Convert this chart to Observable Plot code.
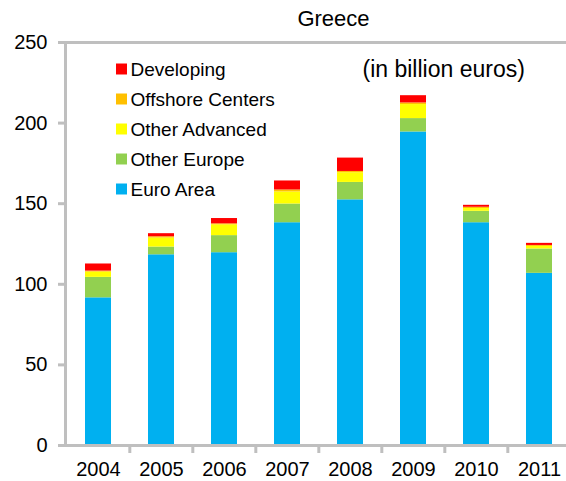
<!DOCTYPE html>
<html><head><meta charset="utf-8">
<script src="https://cdn.jsdelivr.net/npm/d3@7"></script>
<script src="https://cdn.jsdelivr.net/npm/@observablehq/plot@0.6"></script>
<style>
body{margin:0;background:#fff;}
#chart svg{display:block;overflow:visible;}
</style>
</head><body><div id="chart"></div>
<script>
// ---- data (billion euros) ----
const years = ["2004","2005","2006","2007","2008","2009","2010","2011"];
const seriesNames = ["Euro Area","Other Europe","Other Advanced","Offshore Centers","Developing"];
const euroArea        = [91.6, 118.3, 119.6, 138.2, 152.4, 194.5, 138.2, 106.8];
const otherEurope     = [12.7,   4.8,  10.6,  11.6,  10.8,   8.3,   7.1,  15.1];
const otherAdvanced   = [ 3.3,   5.6,   6.7,   7.5,   6.0,   8.7,   1.7,   1.6];
const offshoreCenters = [ 0.6,   0.8,   0.6,   1.2,   0.8,   1.0,   0.8,   0.6];
const developing      = [ 4.4,   1.9,   3.3,   5.6,   8.3,   4.5,   1.2,   1.3];
const seriesColors = ["#00b0f0","#92d050","#ffff00","#ffc000","#ff0000"];
const legendOrder = ["Developing","Offshore Centers","Other Advanced","Other Europe","Euro Area"];
const yTicks = [0, 50, 100, 150, 200, 250];
const titleText = "Greece";
const noteText = "(in billion euros)";

// ---- table built from the arrays ----
const seriesValues = [euroArea, otherEurope, otherAdvanced, offshoreCenters, developing];
const table = [];
seriesNames.forEach((s, k) => years.forEach((yr, i) => table.push({year: yr, series: s, value: seriesValues[k][i]})));

// ---- layout ----
const W = 566, H = 481;
const mL = 65, mR = -6, mT = 42, mB = 36;
const step = (W - mR - mL) / years.length;
const gray = "#bfbfbf";
const font = "'Liberation Sans', Arial, sans-serif";
const colorOf = s => seriesColors[seriesNames.indexOf(s)];

const legendMarks = legendOrder.flatMap((s, i) => [
  Plot.dot([s], {frameAnchor: "top-left", dx: 121 - mL, dy: 68.5 - mT + 30 * i,
    symbol: "square", r: 6.2, fill: colorOf(s), stroke: null}),
  Plot.text([s], {frameAnchor: "top-left", dx: 130 - mL, dy: 69 - mT + 30 * i,
    text: d => d, textAnchor: "start", lineAnchor: "middle", fontSize: 19, fill: "#000"})
]);

const chart = Plot.plot({
  width: W, height: H,
  marginLeft: mL, marginRight: mR, marginTop: mT, marginBottom: mB,
  style: {fontFamily: font, background: "#fff", color: "#000"},
  x: {domain: years, paddingInner: 0.59, paddingOuter: 0.295, align: 0.5, axis: null},
  y: {domain: [0, 250], axis: null},
  color: {domain: seriesNames, range: seriesColors},
  marks: [
    Plot.barY(table, {x: "year", y: "value", fill: "series", order: seriesNames}),
    Plot.frame({stroke: gray, strokeWidth: 3}),
    Plot.axisY({ticks: yTicks, tickSize: 7, tickPadding: 11, fontSize: 20,
      stroke: gray, strokeWidth: 3, fill: "#000", label: null}),
    Plot.axisX({tickSize: 0, tickPadding: 16, fontSize: 20, fill: "#000", label: null}),
    Plot.ruleX(years.slice(1), {x: d => d, y1: 0, y2: 0, dx: -step / 2, insetBottom: -8,
      stroke: gray, strokeWidth: 3}),
    ...legendMarks,
    Plot.text([titleText], {frameAnchor: "top-left", dx: 333 - mL, dy: 18.6 - mT,
      text: d => d, textAnchor: "middle", lineAnchor: "middle", fontSize: 22, fill: "#000"}),
    Plot.text([noteText], {frameAnchor: "top-left", dx: 362 - mL, dy: 69 - mT,
      text: d => d, textAnchor: "start", lineAnchor: "middle", fontSize: 23, fill: "#000"})
  ]
});
document.getElementById("chart").appendChild(chart);
</script>
</body></html>
